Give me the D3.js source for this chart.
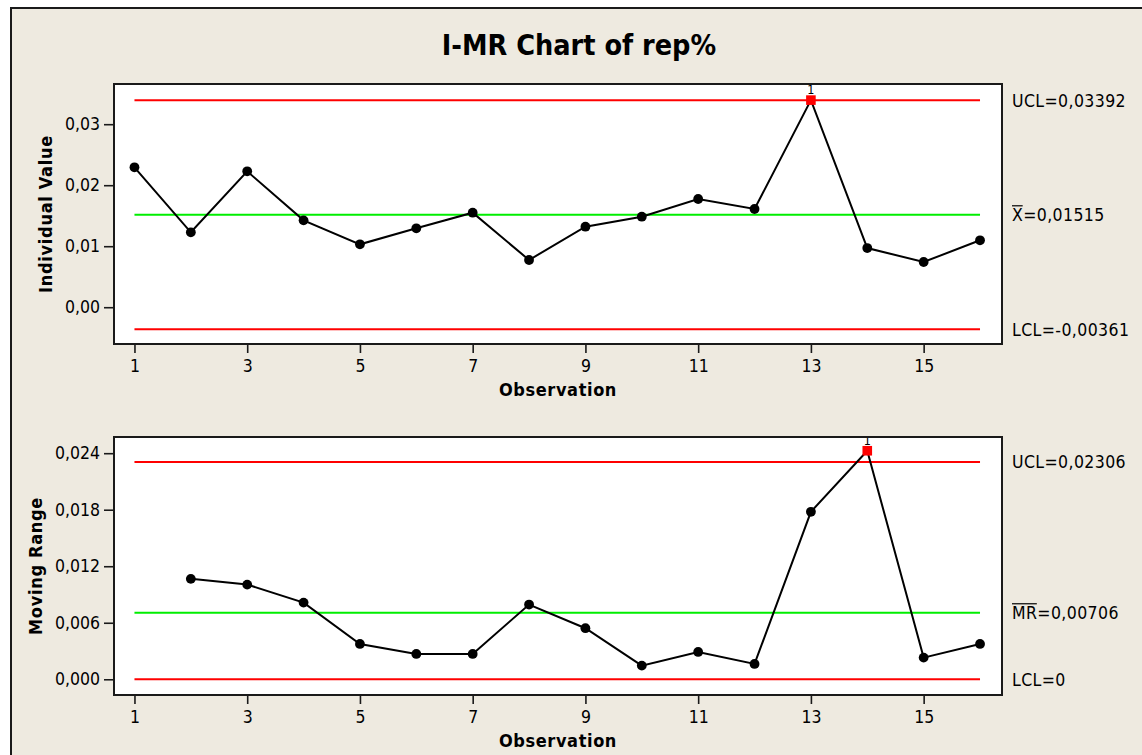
<!DOCTYPE html>
<html>
<head>
<meta charset="utf-8">
<script src="https://cdn.jsdelivr.net/npm/d3@7"></script>
<style>
  body { margin: 0; background: #ffffff; }
  svg { display: block; }
  text { font-family: "DejaVu Sans Condensed", "DejaVu Sans", sans-serif; font-stretch: condensed; fill: #000; }
</style>
</head>
<body>
<svg id="chart" width="1142" height="755"></svg>
<script>
// ---- data -------------------------------------------------------------
const observations = [1, 2, 3, 4, 5, 6, 7, 8, 9, 10, 11, 12, 13, 14, 15, 16];
const individualValues = [0.02293, 0.01228, 0.02228, 0.01424, 0.01031, 0.01293, 0.01549, 0.00774,
                          0.01320, 0.01484, 0.01774, 0.01610, 0.03395, 0.00970, 0.00741, 0.01097];
// moving range is undefined for the first observation
const movingRanges = [null, 0.01066, 0.01005, 0.00814, 0.00375, 0.00269, 0.00269, 0.00793,
                      0.00542, 0.00145, 0.00290, 0.00163, 0.01778, 0.02426, 0.00230, 0.00375];

// control limits: [UCL, centre line, LCL]
const individualLimits = [0.03392, 0.01515, -0.00361];
const movingRangeLimits = [0.02306, 0.00706, 0];

const xTickValues = [1, 3, 5, 7, 9, 11, 13, 15];
const individualTicks = [0, 0.01, 0.02, 0.03];
const movingRangeTicks = [0, 0.006, 0.012, 0.018, 0.024];

const titleText = "I-MR Chart of rep%";
const xAxisTitle = "Observation";

// ---- setup ------------------------------------------------------------
const locale = d3.formatLocale({ decimal: ",", thousands: ".", grouping: [3], currency: ["", ""], minus: "-" });
const fmt2 = locale.format(".2f");
const fmt3 = locale.format(".3f");
const fmt5 = locale.format(".5f");

const svg = d3.select("#chart");
const W = 1142, H = 755;

// outer frame
svg.append("rect")
  .attr("x", 11).attr("y", 8)
  .attr("width", W).attr("height", H)
  .attr("fill", "#eeeae0")
  .attr("stroke", "#1a1a1a").attr("stroke-width", 2);

svg.append("text")
  .attr("x", 579).attr("y", 55)
  .attr("text-anchor", "middle")
  .style("font-size", "28.5px").style("font-weight", "bold")
  .text(titleText);

const box = { left: 114, right: 1002 };
const x = d3.scaleLinear().domain([0.637, 16.39]).range([box.left, box.right]);

const panels = [
  {
    top: 84, bottom: 344, domain: [-0.00603, 0.03659],
    values: individualValues, limits: individualLimits, ticks: individualTicks, fmt: fmt2,
    yTitle: "Individual Value", yTitleX: 46,
    centreName: "X"
  },
  {
    top: 437, bottom: 695, domain: [-0.00167, 0.02572],
    values: movingRanges, limits: movingRangeLimits, ticks: movingRangeTicks, fmt: fmt3,
    yTitle: "Moving Range", yTitleX: 36,
    centreName: "MR"
  }
];

const line = d3.line()
  .defined(d => d.v !== null)
  .x(d => x(d.obs))
  .y(d => d.y);

panels.forEach(p => {
  const y = d3.scaleLinear().domain(p.domain).range([p.bottom, p.top]);
  const g = svg.append("g");

  // plot area
  g.append("rect")
    .attr("x", box.left).attr("y", p.top)
    .attr("width", box.right - box.left).attr("height", p.bottom - p.top)
    .attr("fill", "#ffffff");

  // control limit lines
  const [ucl, cl, lcl] = p.limits;
  const x0 = x(observations[0]), x1 = x(observations[observations.length - 1]);
  [[ucl, "#ff0000"], [cl, "#00ee00"], [lcl, "#ff0000"]].forEach(([v, c]) => {
    g.append("line")
      .attr("x1", x0).attr("x2", x1)
      .attr("y1", y(v)).attr("y2", y(v))
      .attr("stroke", c).attr("stroke-width", 2);
  });

  // data series
  const pts = observations.map((o, i) => ({ obs: o, v: p.values[i] }))
    .map(d => ({ ...d, y: d.v === null ? 0 : y(d.v) }));
  g.append("path")
    .datum(pts)
    .attr("d", line)
    .attr("fill", "none")
    .attr("stroke", "#000").attr("stroke-width", 2);

  const valid = pts.filter(d => d.v !== null);
  const inControl = valid.filter(d => d.v <= ucl && d.v >= lcl);
  const outControl = valid.filter(d => d.v > ucl || d.v < lcl);

  g.selectAll("circle.pt").data(inControl).join("circle")
    .attr("class", "pt")
    .attr("cx", d => x(d.obs)).attr("cy", d => d.y)
    .attr("r", 4.9).attr("fill", "#000");

  g.selectAll("rect.flag").data(outControl).join("rect")
    .attr("class", "flag")
    .attr("x", d => x(d.obs) - 4.8).attr("y", d => d.y - 4.8)
    .attr("width", 9.6).attr("height", 9.6)
    .attr("fill", "#ff0000");

  g.selectAll("text.flag").data(outControl).join("text")
    .attr("class", "flag")
    .attr("x", d => x(d.obs)).attr("y", d => d.y - 6)
    .attr("text-anchor", "middle")
    .style("font-size", "12.5px")
    .text("1");

  // plot border
  g.append("rect")
    .attr("x", box.left).attr("y", p.top)
    .attr("width", box.right - box.left).attr("height", p.bottom - p.top)
    .attr("fill", "none")
    .attr("stroke", "#1a1a1a").attr("stroke-width", 2);

  // y axis
  const ya = g.append("g")
    .attr("transform", `translate(${box.left - 1},0)`)
    .call(d3.axisLeft(y).tickValues(p.ticks).tickFormat(p.fmt).tickSize(9).tickPadding(4));
  ya.select(".domain").remove();
  ya.selectAll(".tick line").attr("stroke", "#1a1a1a").attr("stroke-width", 1.6);
  ya.selectAll(".tick text").attr("font-family", null).style("font-size", "17.5px").attr("fill", "#000");

  // x axis
  const xa = g.append("g")
    .attr("transform", `translate(0,${p.bottom + 1})`)
    .call(d3.axisBottom(x).tickValues(xTickValues).tickFormat(d3.format("d")).tickSize(8).tickPadding(7));
  xa.select(".domain").remove();
  xa.selectAll(".tick line").attr("stroke", "#1a1a1a").attr("stroke-width", 1.6);
  xa.selectAll(".tick text").attr("font-family", null).style("font-size", "17.5px").attr("fill", "#000");

  // axis titles
  g.append("text")
    .attr("x", (box.left + box.right) / 2).attr("y", p.bottom + 52)
    .attr("text-anchor", "middle")
    .style("font-size", "18px").style("font-weight", "bold")
    .style("letter-spacing", "0.6px")
    .text(xAxisTitle);

  g.append("text")
    .attr("transform", `translate(${p.yTitleX},${(p.top + p.bottom) / 2}) rotate(-90)`)
    .attr("dy", "0.35em")
    .attr("text-anchor", "middle")
    .style("font-size", "18px").style("font-weight", "bold")
    .style("letter-spacing", "0.7px")
    .text(p.yTitle);

  // limit labels at the right
  const labelX = 1012;
  const limitLabel = (v, prefix, barred) => {
    const t = g.append("text")
      .attr("x", labelX).attr("y", y(v) + 6.3)
      .style("font-size", "17.5px")
      .style("letter-spacing", "0.4px");
    t.append("tspan").text(prefix);
    t.append("tspan").text("=" + (v === 0 ? "0" : fmt5(v)));
    if (barred) {
      const w = t.node().getSubStringLength(0, prefix.length);
      g.append("line")
        .attr("x1", labelX).attr("x2", labelX + w - 0.5)
        .attr("y1", y(v) - 9).attr("y2", y(v) - 9)
        .attr("stroke", "#000").attr("stroke-width", 1.2);
    }
  };
  limitLabel(ucl, "UCL", false);
  limitLabel(cl, p.centreName, true);
  limitLabel(lcl, "LCL", false);
});
</script>
</body>
</html>
